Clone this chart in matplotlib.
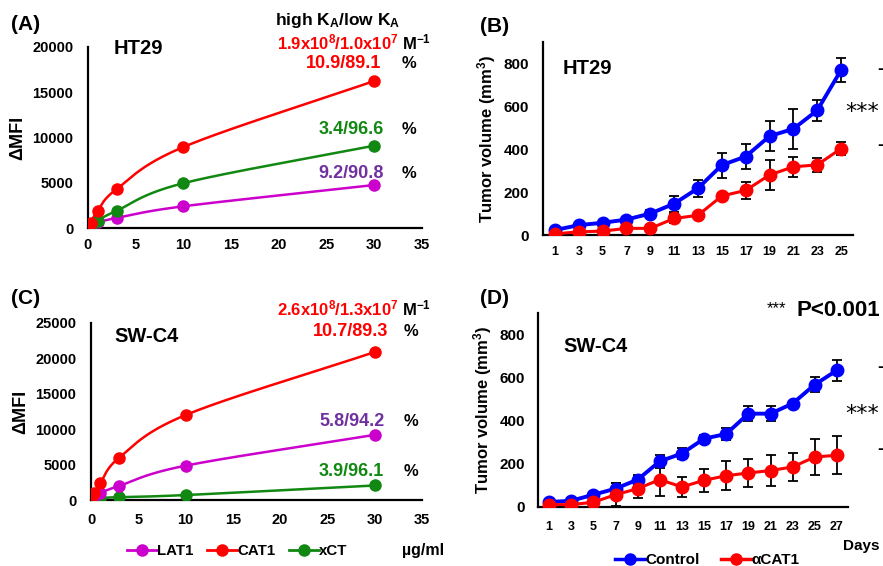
import numpy as np
import matplotlib
matplotlib.use("Agg")
import matplotlib.pyplot as plt
from matplotlib.lines import Line2D

plt.rcParams['font.family'] = ['Liberation Sans', 'DejaVu Sans']
plt.rcParams['font.weight'] = 'bold'
plt.rcParams['mathtext.fontset'] = 'custom'
plt.rcParams['mathtext.rm'] = 'Liberation Sans:bold'
plt.rcParams['mathtext.it'] = 'Liberation Sans:bold'
plt.rcParams['mathtext.bf'] = 'Liberation Sans:bold'
plt.rcParams['mathtext.default'] = 'rm'

# ---------------- data ----------------
conc = [0, 0.3, 1, 3, 10, 30]
# Panel A (HT29)
a_lat1 = [100, 250, 620, 1100, 2400, 4750]
a_cat1 = [150, 600, 1900, 4300, 8950, 16250]
a_xct = [100, 300, 800, 1900, 4950, 9100]
# Panel C (SW-C4)
c_lat1 = [150, 500, 1000, 2000, 4850, 9200]
c_cat1 = [300, 950, 2400, 6000, 12000, 20900]
c_xct = [100, 200, 300, 400, 700, 2050]

# Panel B (HT29 tumor volume)
b_days = [1, 3, 5, 7, 9, 11, 13, 15, 17, 19, 21, 23, 25]
b_ctrl = [23, 46, 57, 72, 100, 146, 218, 326, 366, 461, 495, 581, 769]
b_ctrl_err = [5, 6, 6, 8, 18, 38, 40, 58, 60, 69, 94, 49, 57]
b_cat1 = [5, 15, 18, 31, 31, 77, 92, 182, 208, 280, 318, 327, 403]
b_cat1_err = [3, 4, 4, 5, 6, 23, 8, 10, 41, 69, 48, 34, 31]

# Panel D (SW-C4 tumor volume)
d_days = [1, 3, 5, 7, 9, 11, 13, 15, 17, 19, 21, 23, 25, 27]
d_ctrl = [23, 29, 57, 85, 127, 212, 248, 317, 339, 433, 433, 480, 568, 634]
d_ctrl_err = [4, 5, 8, 26, 23, 31, 26, 15, 28, 34, 34, 8, 36, 50]
d_cat1 = [11, 11, 22, 57, 85, 127, 93, 124, 145, 158, 169, 186, 232, 240]
d_cat1_err = [4, 4, 6, 54, 42, 77, 46, 53, 67, 65, 70, 65, 85, 88]

C_RED = '#FF0000'
C_MAG = '#CC00CC'
C_GRN = '#118811'
C_BLUE = '#0000FF'
C_PURP = '#7030A0'

W, H = 883, 566
fig = plt.figure(figsize=(W / 100, H / 100), dpi=100)


def ax_px(l, r, b, t):
    return fig.add_axes([l / W, 1 - b / H, (r - l) / W, (b - t) / H])


def ftext(x, y, s, **kw):
    kw.setdefault('fontweight', 'bold')
    fig.text(x / W, 1 - y / H, s, **kw)


def smooth(x, y, xr, yr, n=40):
    # Catmull-Rom curve through the data points (normalized space)
    P = np.column_stack([np.asarray(x, float) / xr, np.asarray(y, float) / yr])
    P = np.vstack([2 * P[0] - P[1], P, 2 * P[-1] - P[-2]])
    out = []
    for i in range(1, len(P) - 2):
        p0, p1, p2, p3 = P[i - 1], P[i], P[i + 1], P[i + 2]
        t = np.linspace(0, 1, n)[:, None]
        c = 0.5 * ((2 * p1) + (-p0 + p2) * t + (2 * p0 - 5 * p1 + 4 * p2 - p3) * t ** 2
                   + (-p0 + 3 * p1 - 3 * p2 + p3) * t ** 3)
        out.append(c)
    c = np.vstack(out)
    return c[:, 0] * xr, c[:, 1] * yr


def style(ax, xs, ys, xpad, ypad):
    for s in ['top', 'right']:
        ax.spines[s].set_visible(False)
    for s in ['left', 'bottom']:
        ax.spines[s].set_linewidth(1.6)
        ax.spines[s].set_color('black')
    ax.tick_params(length=0)
    ax.tick_params(axis='x', labelsize=xs, pad=xpad)
    ax.tick_params(axis='y', labelsize=ys, pad=ypad)
    for lab in ax.get_xticklabels() + ax.get_yticklabels():
        lab.set_fontweight('bold')


def binding(ax, series, ymax, yticks, xpad):
    for y, col in series:
        sx, sy = smooth(conc, y, 35, ymax)
        ax.plot(sx, sy, color=col, lw=1.8, zorder=2)
        ax.plot(conc, y, 'o', color=col, ms=8, zorder=3)
    ax.set_xlim(0, 35)
    ax.set_ylim(0, ymax)
    ax.set_xticks(range(0, 36, 5))
    ax.set_yticks(yticks)
    ax.set_ylabel('ΔMFI', fontsize=13, fontweight='bold', labelpad=4)
    style(ax, 10.5, 10.5, xpad, 10.5)


# Panel A
axA = ax_px(88, 422, 228, 47)
binding(axA, [(a_lat1, C_MAG), (a_xct, C_GRN), (a_cat1, C_RED)], 20000,
        range(0, 20001, 5000), 7)
# Panel C
axC = ax_px(91, 422, 500, 323)
binding(axC, [(c_xct, C_GRN), (c_lat1, C_MAG), (c_cat1, C_RED)], 25000,
        range(0, 25001, 5000), 9.5)


def tumor(ax, days, ctrl, ce, cat, ke, xmax, xpad, ypad):
    ax.errorbar(days, ctrl, yerr=ce, fmt='none', ecolor='black', elinewidth=1.3,
                capsize=3.5, capthick=1.3, zorder=2)
    ax.errorbar(days, cat, yerr=ke, fmt='none', ecolor='black', elinewidth=1.3,
                capsize=3.5, capthick=1.3, zorder=2)
    ax.plot(days, ctrl, '-o', color=C_BLUE, lw=2.8, ms=9, zorder=3)
    ax.plot(days, cat, '-o', color=C_RED, lw=2.2, ms=9, zorder=3)
    ax.set_xlim(0, xmax)
    ax.set_ylim(0, 900)
    ax.set_xticks(days)
    ax.set_yticks(range(0, 801, 200))
    ax.set_ylabel('Tumor volume (mm$^{3}$)', fontsize=12, fontweight='bold', labelpad=4)
    style(ax, 9, 11, xpad, ypad)


axB = ax_px(543, 853, 235, 42)
tumor(axB, b_days, b_ctrl, b_ctrl_err, b_cat1, b_cat1_err, 26, 8, 10)
axD = ax_px(538, 848, 507, 313)
tumor(axD, d_days, d_ctrl, d_ctrl_err, d_cat1, d_cat1_err, 28, 10, 9.5)

# panel letters and cell line names
ftext(11, 24, '(A)', fontsize=15, va='center')
ftext(480, 26, '(B)', fontsize=15, va='center')
ftext(11, 299, '(C)', fontsize=15, va='center')
ftext(480, 299, '(D)', fontsize=15, va='center')
ftext(114, 48, 'HT29', fontsize=14.5, va='center')
ftext(563, 68, 'HT29', fontsize=14.5, va='center')
ftext(114, 336, 'SW-C4', fontsize=14.5, va='center')
ftext(563, 346, 'SW-C4', fontsize=14.5, va='center')

# Panel A annotations
ftext(338, 21, 'high K$_{A}$/low K$_{A}$', fontsize=12.5, ha='center', va='center')
ftext(399, 42, '1.9x10$^{8}$/1.0x10$^{7}$', fontsize=12, ha='right', va='center', color=C_RED)
ftext(402, 42, 'M$^{-1}$', fontsize=12, ha='left', va='center')
ftext(381, 64, '10.9/89.1', fontsize=13, ha='right', va='center', color=C_RED)
ftext(402, 64, '%', fontsize=12, ha='left', va='center')
ftext(384, 130, '3.4/96.6', fontsize=13, ha='right', va='center', color=C_GRN)
ftext(402, 130, '%', fontsize=12, ha='left', va='center')
ftext(384, 173, '9.2/90.8', fontsize=13, ha='right', va='center', color=C_PURP)
ftext(402, 173, '%', fontsize=12, ha='left', va='center')

# Panel C annotations
ftext(399, 308, '2.6x10$^{8}$/1.3x10$^{7}$', fontsize=12, ha='right', va='center', color=C_RED)
ftext(402, 308, 'M$^{-1}$', fontsize=12, ha='left', va='center')
ftext(388, 332, '10.7/89.3', fontsize=13, ha='right', va='center', color=C_RED)
ftext(404, 332, '%', fontsize=12, ha='left', va='center')
ftext(385, 421, '5.8/94.2', fontsize=13, ha='right', va='center', color=C_PURP)
ftext(404, 421, '%', fontsize=12, ha='left', va='center')
ftext(384, 471, '3.9/96.1', fontsize=13, ha='right', va='center', color=C_GRN)
ftext(404, 471, '%', fontsize=12, ha='left', va='center')

# significance marks
ftext(845, 112, '***', fontsize=16, ha='left', va='center', fontweight='normal',
      family='DejaVu Sans')
ftext(877, 70, '-', fontsize=13, ha='left', va='center')
ftext(877, 145, '-', fontsize=13, ha='left', va='center')
ftext(845, 414, '***', fontsize=16, ha='left', va='center', fontweight='normal',
      family='DejaVu Sans')
ftext(877, 368, '-', fontsize=13, ha='left', va='center')
ftext(877, 450, '-', fontsize=13, ha='left', va='center')
ftext(767, 309, '***', fontsize=12, ha='left', va='center', fontweight='normal')
ftext(797, 310, 'P<0.001', fontsize=16, ha='left', va='center')

# legends
h1 = [Line2D([], [], color=C_MAG, lw=2, marker='o', ms=8),
      Line2D([], [], color=C_RED, lw=2, marker='o', ms=8),
      Line2D([], [], color=C_GRN, lw=2, marker='o', ms=8)]
fig.legend(h1, ['LAT1', 'CAT1', 'xCT'], loc='center',
           bbox_to_anchor=(237 / W, 1 - 551 / H), ncol=3, frameon=False,
           handlelength=2.0, handletextpad=0.0, columnspacing=0.9,
           prop={'size': 10.8, 'weight': 'bold'})
ftext(402, 550, 'µg/ml', fontsize=11.5, ha='left', va='center')

h2 = [Line2D([], [], color=C_BLUE, lw=2.5, marker='o', ms=8),
      Line2D([], [], color=C_RED, lw=2.5, marker='o', ms=8)]
fig.legend(h2, ['Control', 'αCAT1'], loc='center',
           bbox_to_anchor=(707 / W, 1 - 560 / H), ncol=2, frameon=False,
           handlelength=2.0, handletextpad=0.0, columnspacing=1.4,
           prop={'size': 11, 'weight': 'bold'})
ftext(843, 546, 'Days', fontsize=11, ha='left', va='center')

fig.savefig('out.png', dpi=100)
